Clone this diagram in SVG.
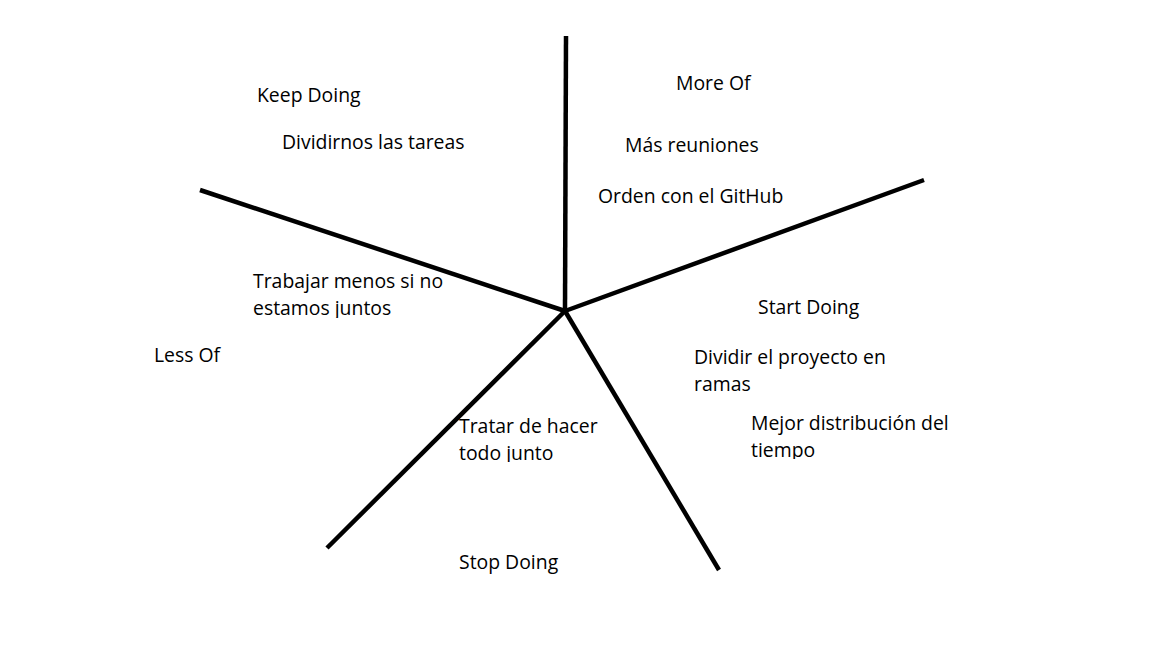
<svg xmlns="http://www.w3.org/2000/svg" width="1152" height="648" viewBox="0 0 1152 648">
<style>
text{font-family:"Open Sans","Liberation Sans",sans-serif;font-size:19.4px;fill:#000}
.ln{stroke:#000;stroke-width:4.5;stroke-linecap:butt;fill:none}
</style>
<defs>
<clipPath id="c1"><rect x="240" y="260" width="230" height="58"/></clipPath>
<clipPath id="c2"><rect x="450" y="405" width="170" height="57"/></clipPath>
<clipPath id="c3"><rect x="740" y="400" width="230" height="59"/></clipPath>
</defs>
<rect width="1152" height="648" fill="#fff"/>
<g id="connectors">
<line class="ln" x1="565" y1="311" x2="566" y2="36"/>
<line class="ln" x1="565" y1="311" x2="924" y2="180"/>
<line class="ln" x1="565" y1="311" x2="719" y2="570"/>
<line class="ln" x1="565" y1="311" x2="327" y2="548"/>
<line class="ln" x1="565" y1="311" x2="200" y2="190"/>
</g>
<g id="keep-doing">
<text x="257" y="102">Keep Doing</text>
<text x="282" y="149">Dividirnos las tareas</text>
</g>
<g id="more-of">
<text x="676" y="90">More Of</text>
<text x="625" y="152">Más reuniones</text>
<text x="598" y="203">Orden con el GitHub</text>
</g>
<g id="less-of">
<text x="154" y="362">Less Of</text>
<g clip-path="url(#c1)">
<text x="253" y="288">Trabajar menos si no</text>
<text x="253" y="315">estamos juntos</text>
</g>
</g>
<g id="start-doing">
<text x="758" y="314">Start Doing</text>
<text x="694" y="364">Dividir el proyecto en</text>
<text x="694" y="391">ramas</text>
<g clip-path="url(#c3)">
<text x="751" y="430">Mejor distribución del</text>
<text x="751" y="457">tiempo</text>
</g>
</g>
<g id="stop-doing">
<g clip-path="url(#c2)">
<text x="459" y="433">Tratar de hacer</text>
<text x="459" y="460">todo junto</text>
</g>
<text x="459" y="569">Stop Doing</text>
</g>
</svg>
